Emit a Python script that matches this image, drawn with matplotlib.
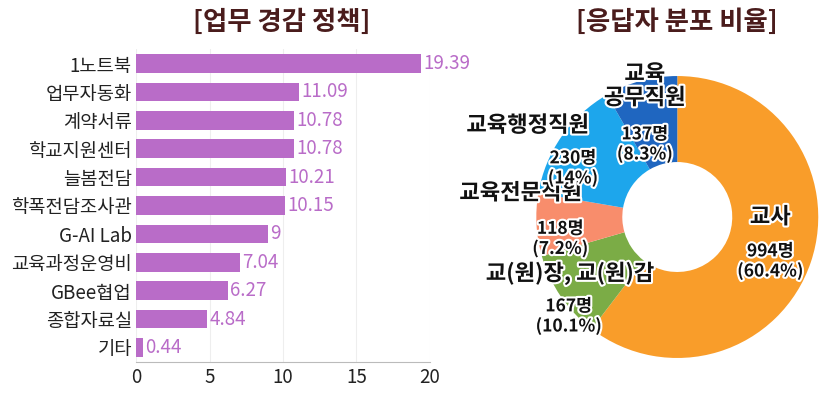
import matplotlib
matplotlib.use("Agg")
import matplotlib.pyplot as plt
import matplotlib.patheffects as pe

plt.rcParams["font.family"] = "Noto Sans CJK KR"

bar_labels = ["1노트북", "업무자동화", "계약서류", "학교지원센터", "늘봄전담", "학폭전담조사관",
              "G-AI Lab", "교육과정운영비", "GBee협업", "종합자료실", "기타"]
bar_values = [19.39, 11.09, 10.78, 10.78, 10.21, 10.15, 9, 7.04, 6.27, 4.84, 0.44]
bar_texts = ["19.39", "11.09", "10.78", "10.78", "10.21", "10.15", "9", "7.04", "6.27", "4.84", "0.44"]
x_ticks = [0, 5, 10, 15, 20]

pie_labels = ["교사", "교(원)장, 교(원)감", "교육전문직원", "교육행정직원", "교육\n공무직원"]
pie_counts = [994, 167, 118, 230, 137]
pie_pcts = ["60.4%", "10.1%", "7.2%", "14%", "8.3%"]
pie_colors = ["#f99d2a", "#7bac46", "#f88d6c", "#1da6ec", "#1f66c0"]

fig = plt.figure(figsize=(8.30, 4.11), dpi=100)
title_color = "#4a1c1c"

ax = fig.add_axes([0.164, 0.12, 0.354, 0.76])
y = list(range(len(bar_values)))
ax.barh(y, bar_values, height=0.65, color="#b96cc8")
ax.set_ylim(len(bar_values) - 0.5, -0.5)
ax.set_xlim(0, 20)
ax.set_xticks(x_ticks)
ax.set_yticks(y)
ax.set_yticklabels(bar_labels, fontsize=13.5, color="#222")
ax.tick_params(axis="x", labelsize=13.5, length=0, colors="#222")
ax.tick_params(axis="y", length=0, pad=3)
ax.grid(axis="x", color="#eeeeee", lw=0.8)
ax.set_axisbelow(True)
for s in ["top", "right", "left"]:
    ax.spines[s].set_visible(False)
ax.spines["bottom"].set_color("#bbbbbb")
for yi, v, t in zip(y, bar_values, bar_texts):
    ax.text(v + 0.15, yi, t, va="center", ha="left", fontsize=13.5, color="#b96cc8")
fig.text(0.34, 0.945, "[업무 경감 정책]", ha="center", va="center", fontsize=19,
         fontweight="bold", color=title_color)

ax2 = fig.add_axes([0.646, 0.129, 0.340, 0.686])
ax2.pie(pie_counts, colors=pie_colors, startangle=90, counterclock=False,
        radius=1.0, wedgeprops=dict(width=0.61, edgecolor="none"))
ax2.set_aspect("equal")
ax2.set_xlim(-1, 1)
ax2.set_ylim(-1, 1)
ax2.axis("off")
fig.text(0.815, 0.945, "[응답자 분포 비율]", ha="center", va="center", fontsize=19,
         fontweight="bold", color=title_color)

stroke = [pe.withStroke(linewidth=3, foreground="white")]
# (label x, label y, number x, number y) in axes data units
pos = [(0.66, 0.0, 0.66, -0.18), (-0.76, -0.40, -0.77, -0.57), (-1.11, 0.17, -0.83, -0.02),
       (-1.06, 0.65, -0.74, 0.48), (-0.23, 0.93, -0.23, 0.65)]
for (lx, ly, nx, ny), lab, c, p in zip(pos, pie_labels, pie_counts, pie_pcts):
    ax2.text(lx, ly, lab, ha="center", va="center", fontsize=16, fontweight="bold",
             color="#111", path_effects=stroke, linespacing=1.05, clip_on=False)
    ax2.text(nx, ny, f"{c}명\n({p})", ha="center", va="top", fontsize=12.5,
             fontweight="bold", color="#111", path_effects=stroke, linespacing=1.15,
             clip_on=False)

fig.savefig("out.png", dpi=100)
